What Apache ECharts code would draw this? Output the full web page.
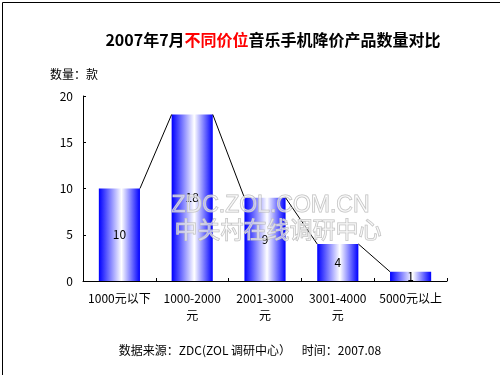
<!DOCTYPE html>
<html>
<head>
<meta charset="utf-8">
<script src="https://cdn.jsdelivr.net/npm/echarts@6/dist/echarts.min.js"></script>
<style>
html,body{margin:0;padding:0;background:#fff;}
#c{width:500px;height:375px;}
</style>
</head>
<body>
<div id="c"></div>
<script>
const categories = ['1000元以下', '1000-2000\n元', '2001-3000\n元', '3001-4000\n元', '5000元以上'];
const counts = [10, 18, 9, 4, 1];
const yTicks = [0, 5, 10, 15, 20];

const FONT = '"Noto Sans CJK SC", "Liberation Sans", sans-serif';
const chart = echarts.init(document.getElementById('c'));

const barGrad = new echarts.graphic.LinearGradient(0, 0, 1, 0, [
  {offset: 0, color: '#0000ff'},
  {offset: 0.55, color: '#ffffff'},
  {offset: 1, color: '#0000ff'}
]);
const BAR_FRAC = 0.565;

chart.setOption({
  animation: false,
  backgroundColor: '#fff',
  textStyle: {fontFamily: FONT},
  title: {
    text: '2007年7月{r|不同价位}音乐手机降价产品数量对比',
    left: 268, top: 27, textAlign: 'center',
    textStyle: {
      fontSize: 16, fontWeight: 'bold', color: '#000', fontFamily: FONT,
      rich: {r: {fontSize: 16, fontWeight: 'bold', color: '#ff0000', fontFamily: FONT}}
    }
  },
  graphic: [
    {type: 'rect', left: 0, top: 0, z: 100, silent: true,
     shape: {x: 0.5, y: 0.5, width: 499, height: 374},
     style: {fill: null, stroke: '#000', lineWidth: 1}},
    {type: 'text', left: 50, top: 68, style: {text: '数量：款', fontSize: 12, fontFamily: FONT, fill: '#000'}},
    {type: 'text', left: 'center', top: 344, style: {text: '数据来源：ZDC(ZOL 调研中心）    时间：2007.08', fontSize: 12, fontFamily: FONT, fill: '#000'}},
    {type: 'text', left: 171, top: 194, z: 50, silent: true,
     style: {text: 'ZDC.ZOL.COM.CN', fontSize: 23, fontFamily: '"Liberation Sans", sans-serif', fill: 'rgba(255,255,255,0.5)', stroke: '#bbbbbb', lineWidth: 1}},
    {type: 'text', left: 174, top: 217, z: 50, silent: true,
     style: {text: '中关村在线调研中心', fontSize: 23, fontFamily: FONT, fill: 'rgba(255,255,255,0.5)', stroke: '#bbbbbb', lineWidth: 1}}
  ],
  grid: {left: 83, right: 53, top: 96, bottom: 94, containLabel: false},
  xAxis: {
    type: 'category',
    data: categories,
    axisLine: {lineStyle: {color: '#000', width: 1}},
    axisTick: {show: true, length: 3, inside: true, lineStyle: {color: '#000'}},
    axisLabel: {color: '#000', fontSize: 12, fontFamily: FONT, margin: 9, lineHeight: 17, interval: 0}
  },
  yAxis: {
    type: 'value',
    min: yTicks[0], max: yTicks[yTicks.length - 1], interval: 5,
    splitLine: {show: false},
    axisLine: {show: true, lineStyle: {color: '#000', width: 1}},
    axisTick: {show: true, length: 3, inside: true, lineStyle: {color: '#000'}},
    axisLabel: {color: '#000', fontSize: 12, fontFamily: FONT, margin: 10}
  },
  series: [
    {
      type: 'bar',
      data: counts,
      barWidth: (BAR_FRAC * 100) + '%',
      itemStyle: {color: barGrad},
      label: {show: true, position: 'inside', color: '#000', fontSize: 12, fontFamily: FONT}
    },
    {
      type: 'custom',
      data: counts.map((v, i) => [i, v]),
      encode: {x: 0, y: 1},
      z: 3,
      renderItem: function (params, api) {
        const i = params.dataIndex;
        if (i >= counts.length - 1) return null;
        const half = api.size([1, 0])[0] * BAR_FRAC / 2;
        const p1 = api.coord([i, counts[i]]);
        const p2 = api.coord([i + 1, counts[i + 1]]);
        return {
          type: 'line',
          shape: {x1: p1[0] + half, y1: p1[1], x2: p2[0] - half, y2: p2[1]},
          style: {stroke: '#000', lineWidth: 1}
        };
      }
    }
  ]
});
</script>
</body>
</html>
